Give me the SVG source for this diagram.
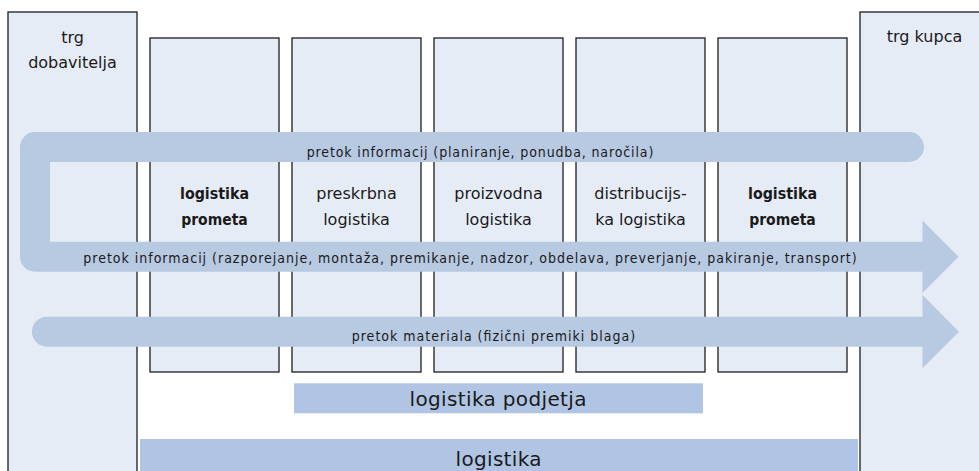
<svg xmlns="http://www.w3.org/2000/svg" width="979" height="471" viewBox="0 0 979 471">
<style>
.panel{fill:#e6ecf6;stroke:#1e1e1e;stroke-width:1.3}
.box{fill:#e6ecf6;stroke:#1e1e1e;stroke-width:1.3}
.flow{fill:#b8c9e2}
.bar{fill:#b0c5e3}
text{font-family:"DejaVu Sans Condensed","DejaVu Sans",sans-serif;fill:#1a1a1a;text-anchor:middle}
.lbl{font-size:14px}
.reg{font-family:"DejaVu Sans",sans-serif;font-size:16px}
.bold{font-size:16px;font-weight:bold}
.big{font-family:"DejaVu Sans",sans-serif;font-size:20px}
</style>
<rect width="979" height="471" fill="#ffffff"/>
<g id="trg-dobavitelja">
<rect class="panel" x="8" y="12" width="129" height="470"/>
<text class="reg" x="72.5" y="42.5">trg</text>
<text class="reg" x="72.5" y="67.5">dobavitelja</text>
</g>
<g id="trg-kupca">
<rect class="panel" x="860" y="12" width="129" height="470"/>
<text class="reg" x="924.5" y="41.5">trg kupca</text>
</g>
<g id="box1">
<rect class="box" x="150" y="38" width="129" height="334"/>
<text class="bold" x="214.5" y="199" textLength="69" lengthAdjust="spacingAndGlyphs">logistika</text>
<text class="bold" x="214.5" y="225" textLength="66.5" lengthAdjust="spacingAndGlyphs">prometa</text>
</g>
<g id="box2">
<rect class="box" x="292" y="38" width="129" height="334"/>
<text class="reg" x="356.5" y="198.5">preskrbna</text>
<text class="reg" x="356.5" y="224.5">logistika</text>
</g>
<g id="box3">
<rect class="box" x="434" y="38" width="129" height="334"/>
<text class="reg" x="498.5" y="198.5">proizvodna</text>
<text class="reg" x="498.5" y="224.5">logistika</text>
</g>
<g id="box4">
<rect class="box" x="576" y="38" width="129" height="334"/>
<text class="reg" x="640.5" y="198.5">distribucijs-</text>
<text class="reg" x="640.5" y="224.5">ka logistika</text>
</g>
<g id="box5">
<rect class="box" x="718" y="38" width="129" height="334"/>
<text class="bold" x="782.5" y="199" textLength="69" lengthAdjust="spacingAndGlyphs">logistika</text>
<text class="bold" x="782.5" y="225" textLength="66.5" lengthAdjust="spacingAndGlyphs">prometa</text>
</g>
<g id="connectors">
<path class="flow" d="M35,132 H909 A15,15 0 0 1 909,162 H50 V241.7 H922.5 V220.5 L958.5,256.7 L922.5,293 V271.7 H35 A15,15 0 0 1 20,256.7 V147 A15,15 0 0 1 35,132 Z"/>
<path class="flow" d="M47,316.7 H922.5 V295 L959,331.7 L922.5,368.3 V346.7 H47 A15,15 0 0 1 47,316.7 Z"/>
<text class="lbl" x="480" y="156.5" textLength="346.6" lengthAdjust="spacing">pretok informacij (planiranje, ponudba, naročila)</text>
<text class="lbl" x="470" y="263" textLength="773.4" lengthAdjust="spacing">pretok informacij (razporejanje, montaža, premikanje, nadzor, obdelava, preverjanje, pakiranje, transport)</text>
<text class="lbl" x="493.4" y="341" textLength="283.3" lengthAdjust="spacing">pretok materiala (fizični premiki blaga)</text>
</g>
<g id="logistika-podjetja">
<rect class="bar" x="294" y="383.3" width="409" height="30"/>
<text class="big" x="498" y="406" textLength="177" lengthAdjust="spacing">logistika podjetja</text>
</g>
<g id="logistika">
<rect class="bar" x="140" y="439" width="718" height="40"/>
<text class="big" x="498.5" y="465.5" textLength="86" lengthAdjust="spacing">logistika</text>
</g>
</svg>
